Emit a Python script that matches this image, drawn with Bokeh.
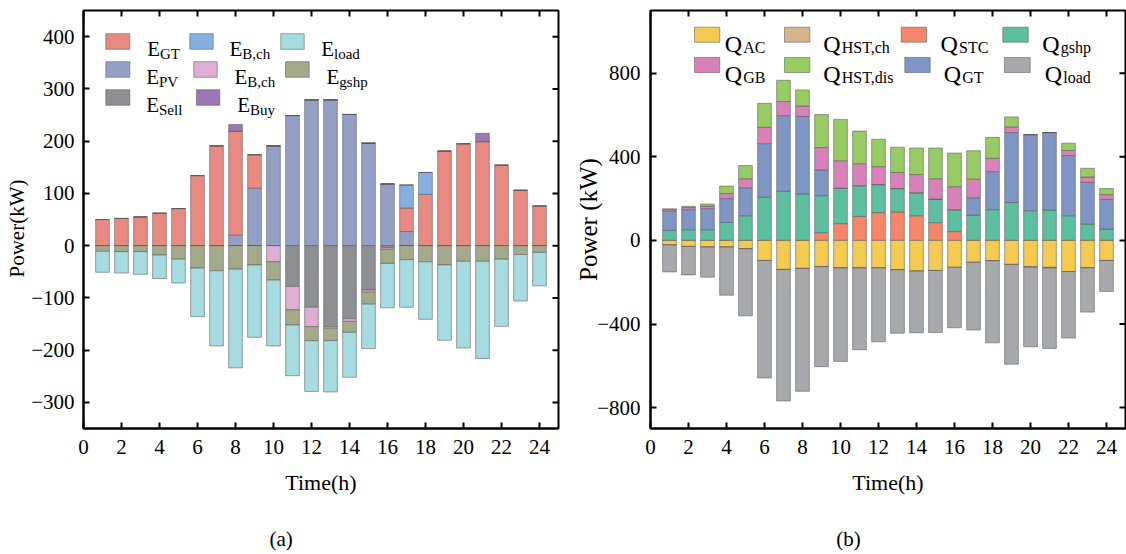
from bokeh.plotting import figure
from bokeh.layouts import row, column
from bokeh.models import ColumnDataSource, FixedTicker, Range1d, Title
from bokeh.core.properties import value
from bokeh.embed import file_html
from bokeh.resources import INLINE

hours = list(range(1, 25))
x_ticks = list(range(0, 25, 2))

# ---------------- (a) electric balance ----------------
E_PV = [0, 0, 0, 0, 0, 0, 0, 20, 110, 191, 249, 279, 279, 251, 196, 118, 27, 0, 0, 0, 0, 0, 0, 0]
E_GT = [50, 52, 55, 62, 71, 134, 191, 199, 64, 0, 0, 0, 0, 0, 0, 0, 45, 98, 181, 195, 199, 154, 106, 76]
E_Bdis = [0] * 16 + [44, 42] + [0] * 6
E_Buy = [0, 0, 0, 0, 0, 0, 0, 13, 0, 0, 0, 0, 0, 0, 0, 0, 0, 0, 0, 0, 16, 0, 0, 0]
E_Sell = [0] * 10 + [78, 118, 155, 140, 85, 4] + [0] * 8
E_Bch = [0] * 9 + [31, 45, 37, 3, 5, 4, 3] + [0] * 8
E_gshp = [11, 11.5, 11.5, 18, 26, 43, 48, 45, 37, 35, 29, 27, 24, 21, 23, 27, 27, 31, 37, 30, 30, 26, 17, 13]
E_load = [40, 41, 43.5, 45, 45.5, 93, 144, 189, 138.5, 126, 97, 97, 98, 86, 85, 85, 91, 110, 144, 166, 186, 128.5, 89, 64]
a_yticks = [-300, -200, -100, 0, 100, 200, 300, 400]

# ---------------- (b) thermal balance ----------------
Q_STC = [0] * 8 + [37, 80, 115, 133, 136, 118, 85, 42] + [0] * 8
Q_gshp = [48, 51, 51, 86, 118, 207, 235, 222, 177, 170, 147, 134, 112, 110, 113, 105, 121, 147, 181, 142, 145, 118, 78, 54]
Q_GT = [92, 96, 101, 114, 134, 256, 362, 372, 123, 0, 0, 0, 0, 0, 0, 0, 83, 182, 335, 364, 371, 288, 200, 142]
Q_GB = [7, 10, 12, 24, 43, 78, 67, 49, 107, 131, 105, 86, 77, 87, 97, 110, 89, 64, 27, 0, 0, 24, 25, 23]
Q_HSTdis = [4, 6, 10, 36, 63, 115, 102, 77, 158, 198, 156, 131, 121, 127, 147, 161, 136, 100, 48, 0, 0, 35, 42, 29]
Q_AC = [22, 29, 32, 32, 40, 96, 139, 134, 125, 132, 132, 132, 140, 147, 144, 129, 105, 97, 115, 125, 129, 149, 131, 96]
Q_HSTch = [0] * 19 + [4, 3] + [0] * 3
Q_load = [129, 136, 144, 230, 321, 562, 629, 588, 479, 447, 391, 353, 304, 295, 297, 289, 324, 393, 477, 380, 385, 318, 212, 148]
b_yticks = [-800, -400, 0, 400, 800]

FONT = "Liberation Serif"
C = {
    "E_GT": "#E88A82", "E_Bdis": "#87AEDF", "E_load": "#A6DCE1", "E_PV": "#949FC6",
    "E_Bch": "#E0AED3", "E_gshp": "#A3AA8A", "E_Sell": "#8E8F92", "E_Buy": "#9B77B6",
    "Q_AC": "#F5CA50", "Q_HSTch": "#D6B48C", "Q_STC": "#F5866A", "Q_gshp": "#5DBEA0",
    "Q_GB": "#D982BA", "Q_HSTdis": "#97CB63", "Q_GT": "#7F95C4", "Q_load": "#A8A9AD",
}
EDGE = dict(line_color="#5a5a5a", line_alpha=0.55, line_width=1)
W, H, CAP_H = 563, 510, 44
TOP, BOTTOM = 10, 428
TICK_PX = 6


def px2data(px, py, frame, xr, yr):
    l, t, r, b = frame
    x = xr[0] + (px - l) / (r - l) * (xr[1] - xr[0])
    y = yr[1] - (py - t) / (b - t) * (yr[1] - yr[0])
    return x, y


def make_fig(xr, yr, yticks, border_left, border_right):
    p = figure(width=W, height=H, x_range=Range1d(*xr), y_range=Range1d(*yr),
               output_backend="svg", toolbar_location=None,
               min_border_left=border_left, min_border_right=border_right,
               min_border_top=TOP, min_border_bottom=H - BOTTOM)
    p.xgrid.visible = False
    p.ygrid.visible = False
    p.outline_line_color = "black"
    p.outline_line_width = 2
    xax = p.below[0]
    yax = p.left[0]
    for ax in (xax, yax):
        ax.axis_line_color = "black"
        ax.axis_line_width = 2
        ax.major_tick_line_color = "black"
        ax.major_tick_line_width = 2
        ax.major_tick_in = TICK_PX
        ax.major_tick_out = 0
        ax.minor_tick_line_color = None
        ax.major_label_text_font = FONT
        ax.major_label_text_font_size = "21px"
        ax.major_label_text_color = "black"
        ax.axis_label_text_font = FONT
        ax.axis_label_text_font_style = "normal"
        ax.axis_label_text_color = "black"
    xax.ticker = FixedTicker(ticks=x_ticks)
    yax.ticker = FixedTicker(ticks=yticks)
    xax.axis_label = "Time(h)"
    xax.axis_label_text_font_size = "22px"
    xax.major_label_standoff = 11
    xax.axis_label_standoff = 13
    yax.major_label_standoff = 9

    # mirrored inward ticks on the top and right frame edges
    frame_h = BOTTOM - TOP
    frame_w = W - border_left - border_right
    dy = TICK_PX / frame_h * (yr[1] - yr[0])
    dx = TICK_PX / frame_w * (xr[1] - xr[0])
    p.segment(x0=x_ticks, x1=x_ticks, y0=[yr[1]] * len(x_ticks), y1=[yr[1] - dy] * len(x_ticks),
              line_color="black", line_width=2)
    p.segment(x0=[xr[1]] * len(yticks), x1=[xr[1] - dx] * len(yticks), y0=yticks, y1=yticks,
              line_color="black", line_width=2)
    return p


def caption_fig(text, cx):
    c = figure(width=W, height=CAP_H, x_range=Range1d(0, W), y_range=Range1d(0, CAP_H),
               output_backend="svg", toolbar_location=None, min_border=0)
    c.axis.visible = False
    c.xgrid.visible = False
    c.ygrid.visible = False
    c.outline_line_color = None
    c.text(x=[cx], y=[CAP_H - 28], text=[text], text_font=value(FONT), text_font_size="21px",
           text_align="center", text_baseline="middle", text_color="black")
    return c


def add_legend(p, entries, frame, xr, yr, main_size, sub_size, base_dy, sub_dy, sub_dx, half_h):
    for main, sub, color, x0, x1, yc, tx in entries:
        lx, ty = px2data(x0, yc - half_h, frame, xr, yr)
        rx, by = px2data(x1, yc + half_h, frame, xr, yr)
        p.quad(left=[lx], right=[rx], top=[ty], bottom=[by], fill_color=color, **EDGE)
        mx, my = px2data(tx, yc + base_dy, frame, xr, yr)
        p.text(x=[mx], y=[my], text=[main], text_font=value(FONT), text_font_size=main_size,
               text_baseline="alphabetic", text_align="left", text_color="black")
        sx, sy = px2data(tx + sub_dx, yc + sub_dy, frame, xr, yr)
        p.text(x=[sx], y=[sy], text=[sub], text_font=value(FONT), text_font_size=sub_size,
               text_baseline="alphabetic", text_align="left", text_color="black")


def neg(v):
    return [-x for x in v]


# ---------- figure (a) ----------
xa, ya = (0, 25), (-350, 450)
frame_a = (83, TOP, 558, BOTTOM)
pa = make_fig(xa, ya, a_yticks, 83, 5)
pa.add_layout(Title(text="Power(kW)", align="left", offset=151, standoff=0, text_font=FONT,
                    text_font_size="21px", text_font_style="normal", text_color="black"), "left")

src_a = ColumnDataSource(dict(hour=hours, E_PV=E_PV, E_GT=E_GT, E_Bdis=E_Bdis, E_Buy=E_Buy,
                              E_Sell=neg(E_Sell), E_Bch=neg(E_Bch), E_gshp=neg(E_gshp), E_load=neg(E_load)))
pos_a = ["E_PV", "E_GT", "E_Bdis", "E_Buy"]
neg_a = ["E_Sell", "E_Bch", "E_gshp", "E_load"]
pa.vbar_stack(pos_a, x="hour", width=0.72, source=src_a, fill_color=[C[k] for k in pos_a], **EDGE)
pa.vbar_stack(neg_a, x="hour", width=0.72, source=src_a, fill_color=[C[k] for k in neg_a], **EDGE)

leg_a = [
    ("E", "GT", C["E_GT"], 105.3, 129.3, 41, 146.7),
    ("E", "B,ch", C["E_Bdis"], 189.3, 212.7, 41, 229),
    ("E", "load", C["E_load"], 280.3, 303.7, 41, 320.7),
    ("E", "PV", C["E_PV"], 105.3, 129.3, 69, 145.7),
    ("E", "B,ch", C["E_Bch"], 193.3, 216.7, 69, 234),
    ("E", "gshp", C["E_gshp"], 285, 308.7, 69, 326),
    ("E", "Sell", C["E_Sell"], 105.3, 129.3, 97, 145.7),
    ("E", "Buy", C["E_Buy"], 196, 219.3, 97, 236.7),
]
add_legend(pa, leg_a, frame_a, xa, ya, "21px", "15px", 7.3, 12.3, 12.8, 7.8)

# ---------- figure (b) ----------
OFF = 563
xb, yb = (0, 25), (-900, 1100)
frame_b = (650 - OFF, TOP, 1125 - OFF, BOTTOM)
pb = make_fig(xb, yb, b_yticks, 87, 1)
pb.left[0].major_label_standoff = 10
pb.left[0].axis_label = "Power (kW)"
pb.left[0].axis_label_text_font_size = "25px"
pb.left[0].axis_label_standoff = -8

src_b = ColumnDataSource(dict(hour=hours, Q_STC=Q_STC, Q_gshp=Q_gshp, Q_GT=Q_GT, Q_GB=Q_GB,
                              Q_HSTdis=Q_HSTdis, Q_AC=neg(Q_AC), Q_HSTch=neg(Q_HSTch), Q_load=neg(Q_load)))
pos_b = ["Q_STC", "Q_gshp", "Q_GT", "Q_GB", "Q_HSTdis"]
neg_b = ["Q_AC", "Q_HSTch", "Q_load"]
pb.vbar_stack(pos_b, x="hour", width=0.72, source=src_b, fill_color=[C[k] for k in pos_b], **EDGE)
pb.vbar_stack(neg_b, x="hour", width=0.72, source=src_b, fill_color=[C[k] for k in neg_b], **EDGE)

leg_b = [
    ("Q", "AC", C["Q_AC"], 694 - OFF, 719.3 - OFF, 34.2, 724.3 - OFF),
    ("Q", "HST,ch", C["Q_HSTch"], 784 - OFF, 809.3 - OFF, 34.2, 822.7 - OFF),
    ("Q", "STC", C["Q_STC"], 900.7 - OFF, 926 - OFF, 34.2, 940 - OFF),
    ("Q", "gshp", C["Q_gshp"], 1002.3 - OFF, 1027.7 - OFF, 34.2, 1041.7 - OFF),
    ("Q", "GB", C["Q_GB"], 694 - OFF, 719.3 - OFF, 64.5, 724.3 - OFF),
    ("Q", "HST,dis", C["Q_HSTdis"], 784 - OFF, 809.3 - OFF, 64.5, 822.7 - OFF),
    ("Q", "GT", C["Q_GT"], 904.3 - OFF, 929.7 - OFF, 64.5, 943.3 - OFF),
    ("Q", "load", C["Q_load"], 1004 - OFF, 1029.7 - OFF, 64.5, 1044.3 - OFF),
]
add_legend(pb, leg_b, frame_b, xb, yb, "24px", "16px", 9, 12.5, 18.5, 7.5)

ca = caption_fig("(a)", 280.7)
cb = caption_fig("(b)", 848 - OFF)

layout = column(row(pa, pb), row(ca, cb))
open("out.html", "w").write(file_html(layout, INLINE))
